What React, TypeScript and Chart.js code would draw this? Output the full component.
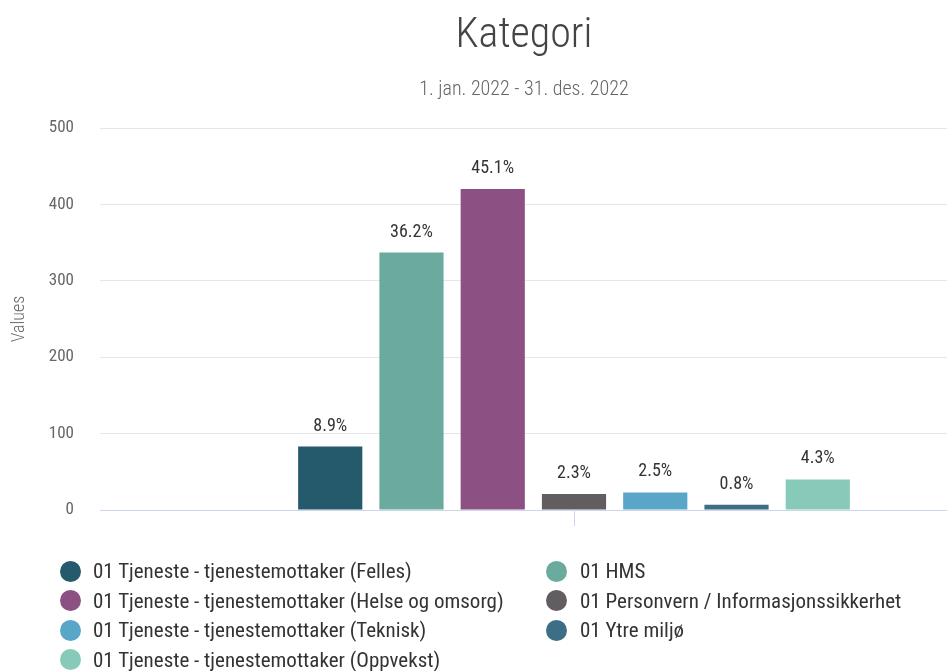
import React, { useEffect, useRef } from "react";
import { Chart, registerables } from "chart.js";

Chart.register(...registerables);

const CATEGORIES = [""];
const SERIES_NAMES = [
  "01 Tjeneste - tjenestemottaker (Felles)",
  "01 HMS",
  "01 Tjeneste - tjenestemottaker (Helse og omsorg)",
  "01 Personvern / Informasjonssikkerhet",
  "01 Tjeneste - tjenestemottaker (Teknisk)",
  "01 Ytre miljø",
  "01 Tjeneste - tjenestemottaker (Oppvekst)",
];
const SERIES_VALUES = [83, 337, 420, 21, 23, 7, 40];
const SERIES_COLORS = ["#25596c", "#6aab9e", "#8c5182", "#615d61", "#5aa6c8", "#3c6e86", "#87cab9"];
const Y_MIN = 0;
const Y_MAX = 500;
const Y_STEP = 100;
const TITLE = "Kategori";
const SUBTITLE = "1. jan. 2022 - 31. des. 2022";
const Y_TITLE = "Values";

const FONT = '"Roboto Condensed", "Liberation Sans Narrow", "Arial Narrow", "DejaVu Sans Condensed", Roboto, sans-serif';

const TOTAL = SERIES_VALUES.reduce((a, b) => a + b, 0);

const dataLabelPlugin = {
  id: "pctLabels",
  afterDatasetsDraw(chart: any) {
    const ctx = chart.ctx;
    ctx.save();
    ctx.font = `normal 18px ${FONT}`;
    ctx.fillStyle = "#333333";
    ctx.textAlign = "center";
    ctx.textBaseline = "alphabetic";
    chart.data.datasets.forEach((ds: any, i: number) => {
      const meta = chart.getDatasetMeta(i);
      meta.data.forEach((bar: any, j: number) => {
        const v = ds.data[j];
        const pct = ((v / TOTAL) * 100).toFixed(1) + "%";
        ctx.fillText(pct, bar.x, bar.y - 16);
      });
    });
    ctx.restore();
  },
};

export default function App() {
  const ref = useRef<HTMLCanvasElement>(null);

  useEffect(() => {
    if (!ref.current) return;
    const chart = new Chart(ref.current, {
      type: "bar",
      data: {
        labels: CATEGORIES,
        datasets: SERIES_NAMES.map((name, i) => ({
          label: name,
          data: [SERIES_VALUES[i]],
          backgroundColor: SERIES_COLORS[i],
          borderWidth: 0,
          categoryPercentage: 0.6,
          barPercentage: 0.79,
        })),
      },
      options: {
        responsive: false,
        animation: false,
        layout: { padding: { left: 0, right: 2, top: 0, bottom: 141 } },
        plugins: {
          legend: { display: false },
          tooltip: { enabled: false },
          title: {
            display: true,
            text: TITLE,
            color: "#444444",
            font: { family: FONT, size: 42, weight: "300" as any, lineHeight: 1.2 },
            padding: { top: 11, bottom: 0 },
          },
          subtitle: {
            display: true,
            text: SUBTITLE,
            color: "#666666",
            font: { family: FONT, size: 20, weight: "300" as any, lineHeight: 1.2 },
            padding: { top: 16.6, bottom: 26 },
          },
        },
        scales: {
          x: {
            grid: {
              display: true,
              drawOnChartArea: false,
              drawTicks: true,
              tickLength: 16,
              color: "#ccd6eb",
              offset: false,
            },
            border: { display: true, color: "#ccd6eb" },
            ticks: { display: false },
            afterFit: (s: any) => {
              s.height = 20;
            },
          },
          y: {
            min: Y_MIN,
            max: Y_MAX,
            ticks: {
              stepSize: Y_STEP,
              color: "#666666",
              padding: 26,
              font: { family: FONT, size: 17 },
            },
            grid: {
              drawTicks: false,
              color: (c: any) => (c.tick && c.tick.value === 0 ? "rgba(0,0,0,0)" : "#e6e6e6"),
            },
            border: { display: false },
            title: {
              display: true,
              text: Y_TITLE,
              color: "#666666",
              font: { family: FONT, size: 18, weight: "300" as any, lineHeight: 1.2 },
              padding: { top: 9, bottom: 0 },
            },
            afterFit: (s: any) => {
              s.width = 100;
            },
          },
        },
      },
      plugins: [dataLabelPlugin],
    });
    return () => chart.destroy();
  }, []);

  const rows: number[][] = [];
  for (let i = 0; i < SERIES_NAMES.length; i += 2) rows.push([i, i + 1]);

  return (
    <div
      style={{
        position: "absolute",
        left: 0,
        top: 0,
        width: 947,
        height: 671,
        overflow: "hidden",
        background: "#ffffff",
      }}
    >
      <div style={{ position: "relative", width: 1050, height: 671 }}>
        <canvas ref={ref} width={1050} height={671} style={{ display: "block" }} />
        <div
          style={{
            position: "absolute",
            left: 0,
            top: 556,
            width: 1050,
            fontFamily: FONT,
            fontSize: 21,
            color: "#333333",
          }}
        >
          {rows.map((r, ri) => (
            <div key={ri} style={{ position: "relative", height: 29.5 }}>
              {r.map((idx, ci) =>
                idx < SERIES_NAMES.length ? (
                  <div
                    key={idx}
                    style={{
                      position: "absolute",
                      left: ci === 0 ? 60 : 546,
                      top: 0,
                      height: 30,
                      display: "flex",
                      alignItems: "center",
                      whiteSpace: "nowrap",
                    }}
                  >
                    <span
                      style={{
                        display: "inline-block",
                        width: 21,
                        height: 21,
                        borderRadius: "50%",
                        background: SERIES_COLORS[idx],
                        marginRight: ci === 0 ? 12 : 13,
                      }}
                    />
                    <span>{SERIES_NAMES[idx]}</span>
                  </div>
                ) : null
              )}
            </div>
          ))}
        </div>
      </div>
    </div>
  );
}
